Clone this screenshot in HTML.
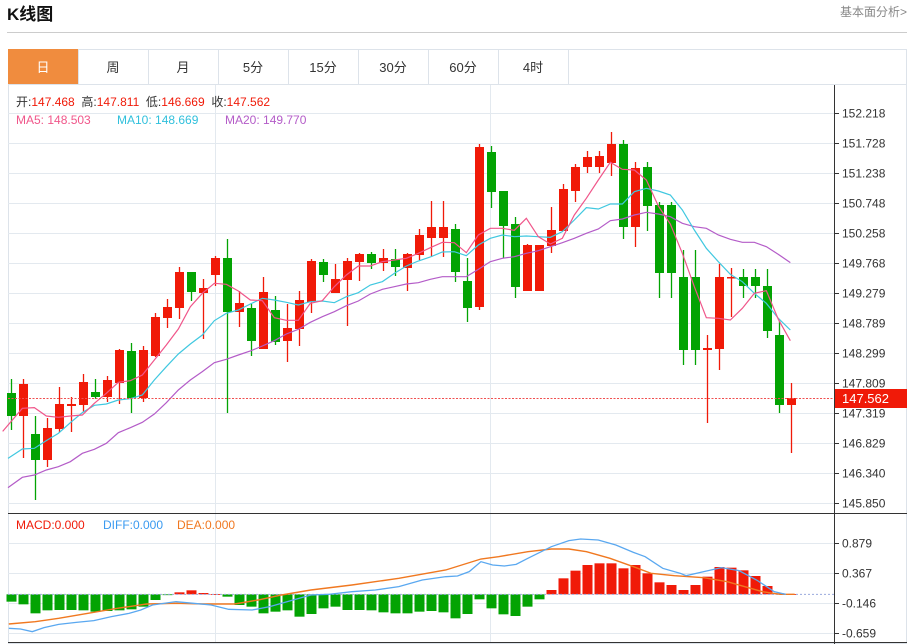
<!DOCTYPE html>
<html><head><meta charset="utf-8">
<style>
body{margin:0;width:915px;height:644px;background:#fff;overflow:hidden;font-family:"Liberation Sans","Noto Sans CJK SC",sans-serif;}
svg{position:absolute;left:0;top:0}
</style></head><body>
<svg id="s" width="915" height="644" xmlns="http://www.w3.org/2000/svg" font-family="Liberation Sans, Noto Sans CJK SC, sans-serif">
<text x="7" y="20" font-size="17" font-weight="bold" fill="#111">K线图</text>
<text x="907" y="16" font-size="12" fill="#888" text-anchor="end">基本面分析&gt;</text>
<line x1="7" y1="32.5" x2="907" y2="32.5" stroke="#ccc"/>
<rect x="8.5" y="49.5" width="898" height="594" fill="none" stroke="#dde3ea"/>
<rect x="8" y="49" width="70" height="35" fill="#f08c3e"/>
<g id="tabs"></g>
<line x1="8" y1="84.5" x2="907" y2="84.5" stroke="#dde3ea"/>
<g id="g"></g>
</svg>
<script>
var NS="http://www.w3.org/2000/svg",G=document.getElementById('g'),T=document.getElementById('tabs');
function el(p,n,a,t){var e=document.createElementNS(NS,n);for(var k in a)e.setAttribute(k,a[k]);if(t!=null)e.textContent=t;p.appendChild(e);return e;}
var tabs=["日","周","月","5分","15分","30分","60分","4时"];
tabs.forEach(function(t,i){var x=8+i*70;el(T,'line',{x1:x+70.5,y1:49,x2:x+70.5,y2:84,stroke:'#dde3ea'});el(T,'text',{x:x+35,y:72,'font-size':13,'text-anchor':'middle',fill:i?'#333':'#fff'},t);});
// grid
for(var y=113;y<=503;y+=30)el(G,'line',{x1:8,y1:y+.5,x2:834,y2:y+.5,stroke:'#e3e9ef'});
[543,573,603,633].forEach(function(y){el(G,'line',{x1:8,y1:y+.5,x2:834,y2:y+.5,stroke:'#e3e9ef'});});
[215,490].forEach(function(x){el(G,'line',{x1:x+.5,y1:85,x2:x+.5,y2:643,stroke:'#e3e9ef'});});
el(G,'line',{x1:834.5,y1:85,x2:834.5,y2:644,stroke:'#333'});
el(G,'line',{x1:8,y1:513.5,x2:907,y2:513.5,stroke:'#333'});
el(G,'line',{x1:8,y1:642.5,x2:907,y2:642.5,stroke:'#333'});
var labs=["152.218","151.728","151.238","150.748","150.258","149.768","149.279","148.789","148.299","147.809","147.319","146.829","146.340","145.850"];
labs.forEach(function(l,i){var y=113+i*30;el(G,'line',{x1:834,y1:y+.5,x2:839,y2:y+.5,stroke:'#333'});el(G,'text',{x:842,y:y+4.5,'font-size':12,fill:'#333'},l);});
[["0.879",543],["0.367",573],["-0.146",603],["-0.659",633]].forEach(function(a){el(G,'line',{x1:834,y1:a[1]+.5,x2:839,y2:a[1]+.5,stroke:'#333'});el(G,'text',{x:842,y:a[1]+4.5,'font-size':12,fill:'#333'},a[0]);});
// candles: [bodyTop,bodyBot,wickTop,wickBot,color]
var C=[[393,416,379,430,'g'],[384,416,379,458,'r'],[434,460,416,500,'g'],[428,460,418,467,'r'],[404,429,387,432,'r'],[404,406,397,432,'r'],[382,405,374,412,'r'],[392,397,379,399,'g'],[380,397,376,402,'r'],[350,383,349,404,'r'],[351,398,343,413,'g'],[350,398,346,402,'r'],[317,356,313,357,'r'],[307,318,299,328,'r'],[272,308,267,319,'r'],[272,292,272,301,'g'],[288,293,279,339,'r'],[258,275,256,286,'r'],[258,312,239,413,'g'],[303,312,291,327,'r'],[308,341,304,356,'g'],[292,349,277,349,'r'],[310,342,296,345,'g'],[328,341,304,362,'r'],[300,329,291,346,'r'],[261,302,259,313,'r'],[262,275,259,282,'g'],[279,293,264,293,'r'],[261,280,258,326,'r'],[254,262,253,281,'r'],[254,263,252,269,'g'],[258,263,249,271,'r'],[259,267,249,276,'g'],[254,268,253,291,'r'],[235,255,229,260,'r'],[227,238,201,257,'r'],[227,238,201,257,'r'],[229,272,224,282,'g'],[281,308,258,322,'g'],[147,307,144,310,'r'],[152,192,146,208,'g'],[191,226,191,258,'g'],[224,287,217,298,'g'],[245,291,244,291,'r'],[245,291,245,291,'r'],[230,246,207,253,'r'],[189,231,184,231,'r'],[167,191,164,202,'r'],[157,167,151,173,'r'],[156,167,151,173,'r'],[144,163,132,176,'r'],[144,227,140,239,'g'],[168,227,162,247,'r'],[167,206,162,231,'g'],[205,273,202,298,'g'],[205,273,202,298,'g'],[277,350,250,365,'g'],[277,350,250,365,'g'],[348,350,335,423,'r'],[277,349,264,370,'r'],[277,278,268,317,'r'],[277,286,269,298,'g'],[277,286,269,298,'g'],[286,331,269,338,'g'],[335,405,321,413,'g'],[398,405,383,453,'r']];
var RED='#f01a08',GRN='#03a303';
C.forEach(function(c,i){var x=11+i*12,col=c[4]=='r'?RED:GRN;el(G,'line',{x1:x+.5,y1:c[2],x2:x+.5,y2:c[3],stroke:col,'stroke-width':1.3});el(G,'rect',{x:x-4,y:c[0],width:9,height:Math.max(1.5,c[1]-c[0]),fill:col});});
function pl(pts,col,w,dash){el(G,'polyline',{points:pts.map(function(p){return p.join(',')}).join(' '),fill:'none',stroke:col,'stroke-width':w||1.2,'stroke-dasharray':dash||'none'});}
function z2(a){return a.map(function(p){return [p[0]/3,130+p[1]/3]});}
function z3(a){return a.map(function(p){return [450+p[0]/3,130+p[1]/3]});}
var ma5=z2([[8,904],[67,835],[103,833],[139,858],[175,862],[211,858],[247,855],[283,820],[319,790],[355,757],[391,752],[427,735],[463,690],[499,645],[535,597],[571,530],[607,490],[643,460],[679,463],[715,483],[751,510],[787,512],[823,563],[859,571],[895,571],[931,520],[967,512],[1003,470],[1039,435],[1075,408],[1111,408],[1147,395],[1183,390],[1219,385],[1255,370],[1291,353],[1327,337]]).concat(z3([[13,338],[49,368],[85,315],[121,295],[157,295],[193,301],[229,265],[265,320],[301,342],[337,325],[373,255],[409,205],[445,150],[481,97],[517,118],[553,120],[589,150],[625,228],[661,282],[697,370],[733,470],[769,563],[805,565],[841,570],[877,535],[913,490],[949,482],[985,568],[1021,632]]));
var ma10=z2([[24,985],[67,957],[103,955],[139,932],[175,910],[211,878],[247,848],[283,826],[319,822],[355,810],[391,806],[427,795],[463,750],[499,710],[535,672],[571,642],[607,615],[643,572],[679,550],[715,540],[751,522],[787,505],[823,510],[859,517],[895,525],[931,515],[967,513],[1003,518],[1039,500],[1075,488],[1111,465],[1147,455],[1183,430],[1219,408],[1255,393],[1291,381],[1327,366]]).concat(z3([[13,365],[49,377],[85,345],[121,325],[157,315],[193,320],[229,318],[265,320],[301,322],[337,305],[373,270],[409,233],[445,237],[481,222],[517,222],[553,185],[589,175],[625,183],[661,195],[697,240],[733,300],[769,355],[805,395],[841,433],[877,455],[913,490],[949,520],[985,565],[1021,600]]));
var ma20=z2([[24,1073],[67,1042],[103,1035],[139,1020],[175,1010],[211,995],[247,970],[283,958],[319,940],[355,908],[391,893],[427,877],[463,852],[499,818],[535,780],[571,750],[607,725],[643,698],[679,688],[715,675],[751,663],[787,648],[823,632],[859,612],[895,598],[931,577],[967,560],[1003,545],[1039,527],[1075,513],[1111,492],[1147,478],[1183,470],[1219,462],[1255,458],[1291,448],[1327,440]]).concat(z3([[13,440],[49,440],[85,418],[121,395],[157,385],[193,380],[229,370],[265,362],[301,350],[337,338],[373,325],[409,310],[445,297],[481,272],[517,267],[553,255],[589,247],[625,252],[661,260],[697,280],[733,290],[769,295],[805,315],[841,328],[877,337],[913,337],[949,350],[985,373],[1021,398]]));
pl(ma20,'#b45cc8');pl(ma10,'#40c8e0');pl(ma5,'#f0568a');
el(G,'line',{x1:8,y1:398.5,x2:834,y2:398.5,stroke:'#f05050','stroke-dasharray':'2,1.5'});
el(G,'rect',{x:835,y:389,width:72,height:19,fill:'#f01a08'});
el(G,'text',{x:842,y:403,'font-size':13,fill:'#fff'},'147.562');
// legend
var lg=el(G,'text',{x:16,y:106,'font-size':12,fill:'#333'});
[["开:",'#333'],["147.468",'#f01a08'],["  高:",'#333'],["147.811",'#f01a08'],["  低:",'#333'],["146.669",'#f01a08'],["  收:",'#333'],["147.562",'#f01a08']].forEach(function(a){el(lg,'tspan',{fill:a[1]},a[0]);});
lg.setAttribute('xml:space','preserve');lg.style.whiteSpace='pre';
el(G,'text',{x:16,y:124,'font-size':12,fill:'#f0568a'},'MA5: 148.503');
el(G,'text',{x:117,y:124,'font-size':12,fill:'#30c0dc'},'MA10: 148.669');
el(G,'text',{x:225,y:124,'font-size':12,fill:'#b45cc8'},'MA20: 149.770');
el(G,'text',{x:16,y:529,'font-size':12,fill:'#f01a08'},'MACD:0.000');
el(G,'text',{x:103,y:529,'font-size':12,fill:'#3a9af0'},'DIFF:0.000');
el(G,'text',{x:177,y:529,'font-size':12,fill:'#f07820'},'DEA:0.000');
// MACD bars
var B=[290,298,325,316,315,315,316,320,318,316,313,305,285,270,262,256,264,267,275,300,305,325,320,316,335,327,310,305,315,315,316,322,325,325,320,318,322,340,327,283,310,328,333,305,283,255,220,197,180,175,175,190,180,205,232,240,255,240,215,186,188,196,213,243,265,267];
var base=505+268/3;
B.forEach(function(b,i){var x=11+i*12,y=505+b/3;var top=Math.min(y,base),h=Math.abs(y-base);el(G,'rect',{x:x-4.5,y:top,width:10,height:Math.max(h,.8),fill:b<268?RED:GRN});});
el(G,'line',{x1:8,y1:base,x2:834,y2:base,stroke:'#9ad','stroke-dasharray':'2,2'});
function z4(a){return a.map(function(p){return [p[0]/1.705,505+p[1]/3]});}
pl(z4([[15,357],[60,350],[100,340],[150,325],[200,310],[250,297],[300,295],[350,297],[400,297],[440,285],[480,270],[530,255],[600,240],[680,220],[760,195],[820,162],[850,155],[900,140],[940,132],[970,132],[1000,140],[1040,160],[1080,185],[1110,205],[1150,212],[1200,218],[1240,230],[1270,245],[1300,260],[1330,268],[1355,268]]),'#f07820',1.4);
pl(z4([[15,370],[35,372],[55,380],[75,368],[100,358],[130,352],[160,347],[190,335],[220,325],[240,315],[260,300],[300,290],[330,295],[360,300],[390,313],[430,315],[460,305],[490,290],[530,270],[560,268],[600,260],[640,255],[680,245],[720,225],[760,215],[780,213],[800,200],[820,170],[840,180],[860,183],[880,178],[900,160],[940,125],[970,107],[990,102],[1020,105],[1050,120],[1080,142],[1100,155],[1130,190],[1160,205],[1170,212],[1200,200],[1230,188],[1260,197],[1290,225],[1320,260],[1340,268]]),'#5aa8f0',1.3);
</script>
</body></html>
